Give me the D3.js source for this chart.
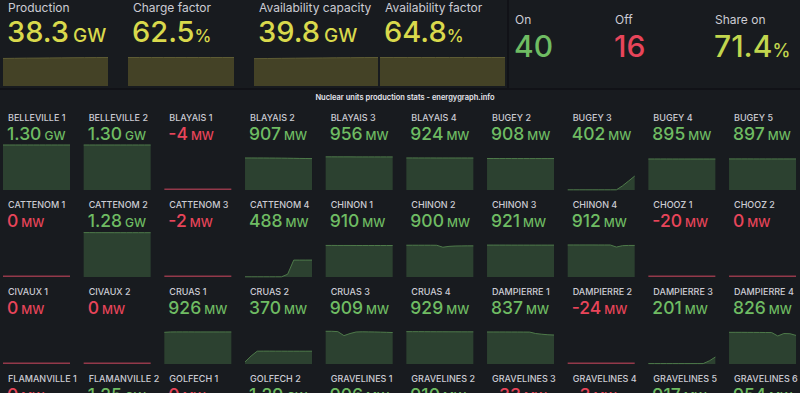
<!DOCTYPE html>
<html>
<head>
<meta charset="utf-8">
<script src="https://cdn.jsdelivr.net/npm/d3@7"></script>
<style>
  html, body { margin: 0; padding: 0; background: #111217; }
  svg { display: block; font-family: Inter, "Open Sans", sans-serif; }
</style>
</head>
<body>
<div id="dash"></div>
<script>
// Top stats panel
const statLabels = ["Production", "Charge factor", "Availability capacity", "Availability factor"];
const statValues = [38.3, 62.5, 39.8, 64.8];
const statUnits = ["GW", "%", "GW", "%"];
const statHistory = [
  [37.0, 37.2, 37.4, 37.5, 37.7, 37.8, 38.0, 38.1, 38.2, 38.3],
  [62.5, 62.5, 62.5, 62.5, 62.5, 62.5, 62.5, 62.5, 62.5, 62.5],
  [38.2, 38.4, 38.6, 38.8, 39.0, 39.2, 39.4, 39.5, 39.7, 39.8],
  [64.8, 64.8, 64.8, 64.8, 64.8, 64.8, 64.8, 64.8, 64.8, 64.8]
];

// Counts panel
const countLabels = ["On", "Off", "Share on"];
const countValues = [40, 16, 71.4];
const countUnits = ["", "", "%"];

// Units (MW)
const unitNames = [
  "BELLEVILLE 1", "BELLEVILLE 2", "BLAYAIS 1", "BLAYAIS 2", "BLAYAIS 3", "BLAYAIS 4", "BUGEY 2", "BUGEY 3", "BUGEY 4", "BUGEY 5",
  "CATTENOM 1", "CATTENOM 2", "CATTENOM 3", "CATTENOM 4", "CHINON 1", "CHINON 2", "CHINON 3", "CHINON 4", "CHOOZ 1", "CHOOZ 2",
  "CIVAUX 1", "CIVAUX 2", "CRUAS 1", "CRUAS 2", "CRUAS 3", "CRUAS 4", "DAMPIERRE 1", "DAMPIERRE 2", "DAMPIERRE 3", "DAMPIERRE 4",
  "FLAMANVILLE 1", "FLAMANVILLE 2", "GOLFECH 1", "GOLFECH 2", "GRAVELINES 1", "GRAVELINES 2", "GRAVELINES 3", "GRAVELINES 4", "GRAVELINES 5", "GRAVELINES 6"
];
const unitValues = [
  1300, 1300, -4, 907, 956, 924, 908, 402, 895, 897,
  0, 1280, -2, 488, 910, 900, 921, 912, -20, 0,
  0, 0, 926, 370, 909, 929, 837, -24, 201, 826,
  0, 1250, 0, 1290, 906, 910, -33, -3, 917, 954
];
const unitHistory = [
  [1302, 1301, 1302, 1300, 1301, 1302, 1301, 1300, 1301, 1300, 1300, 1300],
  [1301, 1302, 1300, 1301, 1300, 1302, 1301, 1300, 1301, 1300, 1300, 1300],
  [-4, -4, -4, -4, -4, -4, -4, -4, -4, -4, -4, -4],
  [925, 925, 924, 924, 923, 922, 920, 918, 915, 912, 910, 907],
  [958, 958, 957, 957, 957, 956, 956, 956, 956, 956, 956, 956],
  [926, 926, 925, 925, 925, 924, 924, 924, 924, 924, 924, 924],
  [910, 910, 909, 909, 909, 908, 908, 908, 908, 908, 908, 908],
  [5, 5, 5, 5, 5, 5, 5, 5, 5, 120, 260, 402],
  [896, 896, 896, 896, 895, 895, 895, 895, 895, 895, 895, 895],
  [898, 898, 898, 898, 897, 897, 897, 897, 897, 897, 897, 897],
  [0, 0, 0, 0, 0, 0, 0, 0, 0, 0, 0, 0],
  [1282, 1282, 1281, 1281, 1281, 1280, 1280, 1280, 1280, 1280, 1280, 1280],
  [-2, -2, -2, -2, -2, -2, -2, -2, -2, -2, -2, -2],
  [5, 5, 5, 5, 5, 5, 5, 80, 488, 488, 488, 488],
  [912, 912, 911, 911, 911, 910, 910, 910, 910, 910, 910, 910],
  [918, 918, 918, 918, 918, 916, 860, 885, 895, 898, 900, 900],
  [922, 922, 922, 922, 921, 921, 921, 921, 921, 921, 921, 921],
  [925, 925, 925, 925, 925, 924, 924, 924, 865, 905, 912, 912],
  [-20, -20, -20, -20, -20, -20, -20, -20, -20, -20, -20, -20],
  [0, 0, 0, 0, 0, 0, 0, 0, 0, 0, 0, 0],
  [0, 0, 0, 0, 0, 0, 0, 0, 0, 0, 0, 0],
  [0, 0, 0, 0, 0, 0, 0, 0, 0, 0, 0, 0],
  [915, 925, 927, 927, 927, 926, 926, 926, 926, 926, 926, 926],
  [60, 230, 370, 372, 372, 371, 371, 370, 370, 370, 370, 370],
  [945, 945, 935, 820, 880, 925, 930, 928, 925, 920, 915, 909],
  [935, 934, 934, 933, 932, 931, 931, 930, 930, 929, 929, 929],
  [925, 925, 925, 925, 924, 924, 923, 922, 880, 860, 845, 837],
  [-24, -24, -24, -24, -24, -24, -24, -24, -24, -24, -24, -24],
  [12, 12, 12, 12, 12, 12, 12, 12, 12, 12, 90, 201],
  [915, 915, 915, 914, 913, 912, 910, 908, 810, 880, 875, 826],
  [0, 0, 0, 0, 0, 0, 0, 0, 0, 0, 0, 0],
  [1252, 1252, 1251, 1251, 1251, 1250, 1250, 1250, 1250, 1250, 1250, 1250],
  [0, 0, 0, 0, 0, 0, 0, 0, 0, 0, 0, 0],
  [1291, 1291, 1291, 1290, 1290, 1290, 1290, 1290, 1290, 1290, 1290, 1290],
  [908, 908, 907, 907, 907, 906, 906, 906, 906, 906, 906, 906],
  [911, 911, 911, 910, 910, 910, 910, 910, 910, 910, 910, 910],
  [-33, -33, -33, -33, -33, -33, -33, -33, -33, -33, -33, -33],
  [-3, -3, -3, -3, -3, -3, -3, -3, -3, -3, -3, -3],
  [918, 918, 918, 917, 917, 917, 917, 917, 917, 917, 917, 917],
  [955, 955, 955, 954, 954, 954, 954, 954, 954, 954, 954, 954]
];

const COLORS = {
  page: "#111217",
  panel: "#181b1f",
  label: "#ccccd4",
  yellow: "#d9d94c",
  yellowGreen: "#c2d64e",
  green: "#6fbc63",
  red: "#e8455a",
  yellowFill: "#444226",
  yellowLine: "#5e5c34",
  greenFill: "#2c4130",
  greenLine: "#4e7a4a",
  redLine: "#93394a"
};

const width = 800;
const height = 393;

const svg = d3.select("#dash")
  .append("svg")
  .attr("width", width)
  .attr("height", height);

svg.append("rect").attr("width", width).attr("height", height).attr("fill", COLORS.page);

// panels
svg.append("rect").attr("x", 0).attr("y", 0).attr("width", 507).attr("height", 88).attr("fill", COLORS.panel);
svg.append("rect").attr("x", 509).attr("y", 0).attr("width", 291).attr("height", 88).attr("fill", COLORS.panel);
svg.append("rect").attr("x", 0).attr("y", 90).attr("width", 800).attr("height", 303).attr("fill", COLORS.panel);

// ---- top stats ----
const statX = [3, 128, 254, 380];
const statW = [105, 106, 124, 125];

statLabels.forEach((label, i) => {
  let g = svg.append("g").attr("transform", `translate(${statX[i]},0)`);

  g.append("text")
    .attr("x", 5).attr("y", 12)
    .attr("fill", COLORS.label)
    .attr("font-size", 12)
    .text(label);

  let t = g.append("text")
    .attr("x", 4).attr("y", 42)
    .attr("fill", COLORS.yellow)
    .attr("font-size", 29)
    .attr("font-weight", 500)
    .text(statValues[i].toFixed(1));
  t.append("tspan")
    .attr("font-size", statUnits[i] === "%" ? 17 : 19)
    .attr("dx", statUnits[i] === "%" ? 0 : 4)
    .text(statUnits[i]);

  let data = statHistory[i];
  let x = d3.scaleLinear().domain([0, data.length - 1]).range([0, statW[i]]);
  let y = d3.scaleLinear().domain([0, d3.max(data)]).range([86, 57.5]);

  g.append("path")
    .datum(data)
    .attr("fill", COLORS.yellowFill)
    .attr("d", d3.area().x((d, j) => x(j)).y0(86).y1(d => y(d)));
  g.append("path")
    .datum(data)
    .attr("fill", "none")
    .attr("stroke", COLORS.yellowLine)
    .attr("stroke-width", 1)
    .attr("d", d3.line().x((d, j) => x(j)).y(d => y(d)));
});

// ---- counts ----
const countX = [515, 615, 715];
const countColors = [COLORS.green, COLORS.red, COLORS.yellowGreen];
countLabels.forEach((label, i) => {
  svg.append("text")
    .attr("x", countX[i]).attr("y", 24)
    .attr("fill", COLORS.label)
    .attr("font-size", 12)
    .text(label);
  let t = svg.append("text")
    .attr("x", countX[i] - 1).attr("y", 57)
    .attr("fill", countColors[i])
    .attr("font-size", 30)
    .attr("font-weight", 500)
    .text(countUnits[i] === "%" ? countValues[i].toFixed(1) : countValues[i]);
  if (countUnits[i]) {
    t.append("tspan").attr("font-size", 18).text(countUnits[i]);
  }
});

// ---- units grid ----
svg.append("text")
  .attr("x", 405).attr("y", 100)
  .attr("text-anchor", "middle")
  .attr("fill", "#e6e6ee")
  .attr("font-size", 7.5)
  .attr("font-weight", 600)
  .text("Nuclear units production stats - energygraph.info");

const colScale = d3.scaleBand().domain(d3.range(10)).range([0, 806.7]);
const rowScale = d3.scaleBand().domain(d3.range(4)).range([0, 348]);
const boxW = 67;
const boxTop = 145;
const boxBottom = 190;

function formatPower(v) {
  if (Math.abs(v) >= 1000) return [(v / 1000).toFixed(2), "GW"];
  return [String(v), "MW"];
}

unitNames.forEach((name, i) => {
  let col = i % 10;
  let row = Math.floor(i / 10);
  let g = svg.append("g")
    .attr("transform", `translate(${colScale(col)},${rowScale(row)})`);
  let on = unitValues[i] > 50;
  let color = on ? COLORS.green : COLORS.red;

  g.append("text")
    .attr("x", 8).attr("y", 121)
    .attr("fill", COLORS.label)
    .attr("font-size", 9)
    .attr("font-weight", 500)
    .text(name);

  let [num, unit] = formatPower(unitValues[i]);
  let t = g.append("text")
    .attr("x", 7).attr("y", 140)
    .attr("fill", color)
    .attr("font-size", 17.5)
    .attr("font-weight", 500)
    .text(num);
  t.append("tspan")
    .attr("dx", 3)
    .attr("font-size", 12)
    .text(unit);

  let data = unitHistory[i];
  let x = d3.scaleLinear().domain([0, data.length - 1]).range([3, 3 + boxW]);
  let y = d3.scaleLinear().domain([0, 1300]).range([boxBottom, boxTop]).clamp(true);

  g.append("path")
    .datum(data)
    .attr("fill", on ? COLORS.greenFill : "none")
    .attr("d", d3.area().x((d, j) => x(j)).y0(boxBottom).y1(d => y(d)));
  g.append("path")
    .datum(data)
    .attr("fill", "none")
    .attr("stroke", on ? COLORS.greenLine : COLORS.redLine)
    .attr("stroke-width", on ? 1 : 1.5)
    .attr("d", d3.line().x((d, j) => x(j)).y(d => on ? y(d) : y(d) - 0.75));
});
</script>
</body>
</html>
